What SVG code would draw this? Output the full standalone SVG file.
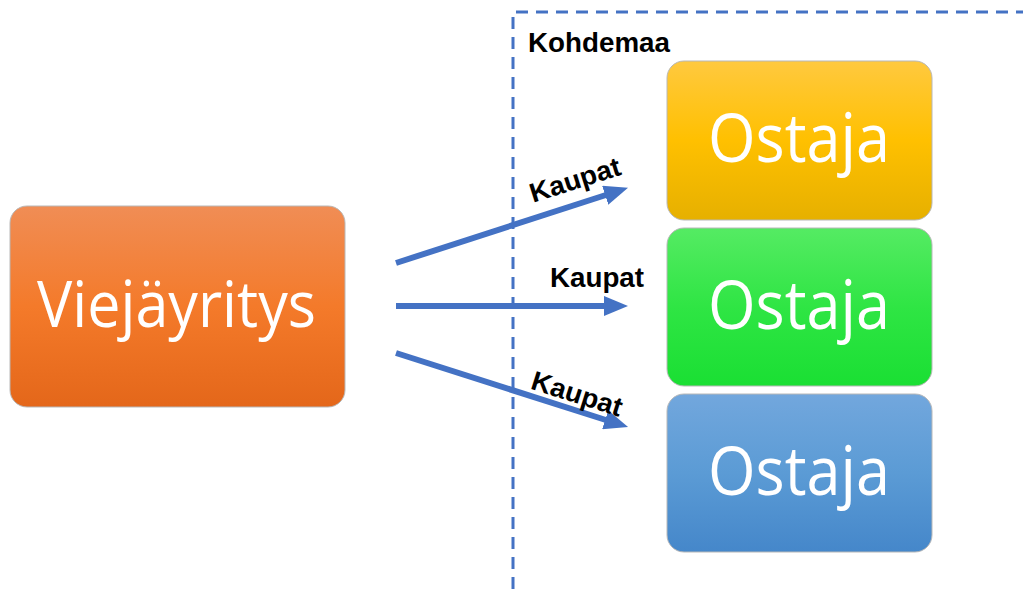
<svg xmlns="http://www.w3.org/2000/svg" width="1023" height="589" viewBox="0 0 1023 589">
  <defs>
    <linearGradient id="gOrange" x1="0" y1="0" x2="0" y2="1">
      <stop offset="0" stop-color="#F08D55"/>
      <stop offset="0.5" stop-color="#F47A2A"/>
      <stop offset="1" stop-color="#E4671A"/>
    </linearGradient>
    <linearGradient id="gYellow" x1="0" y1="0" x2="0" y2="1">
      <stop offset="0" stop-color="#FFC93F"/>
      <stop offset="0.5" stop-color="#FFC000"/>
      <stop offset="1" stop-color="#E6B000"/>
    </linearGradient>
    <linearGradient id="gGreen" x1="0" y1="0" x2="0" y2="1">
      <stop offset="0" stop-color="#55EB63"/>
      <stop offset="0.5" stop-color="#2FE544"/>
      <stop offset="1" stop-color="#1ADF33"/>
    </linearGradient>
    <linearGradient id="gBlue" x1="0" y1="0" x2="0" y2="1">
      <stop offset="0" stop-color="#72A7DD"/>
      <stop offset="0.5" stop-color="#5B9BD5"/>
      <stop offset="1" stop-color="#4587CA"/>
    </linearGradient>
    <marker id="head" markerUnits="userSpaceOnUse" markerWidth="24" markerHeight="20" refX="4" refY="10" orient="auto">
      <path d="M0,0 L24,10 L0,20 z" fill="#4472C4"/>
    </marker>
    <style>
      .box { stroke: #B8B8B8; stroke-width: 1; }
      .big { font-family: "Open Sans", "Noto Sans", sans-serif; fill: #FFFFFF; text-anchor: start; }
      .lbl { font-family: "Liberation Sans", Arial, sans-serif; font-weight: bold; font-size: 27px; fill: #000000; }
      .arrow { stroke: #4472C4; stroke-width: 6; fill: none; marker-end: url(#head); }
      .frame { stroke: #4472C4; stroke-width: 3; fill: none; stroke-dasharray: 12 8; }
    </style>
  </defs>

  <rect width="1023" height="589" fill="#FFFFFF"/>

  <!-- target-country region -->
  <g id="region">
    <path class="frame" d="M513,589 L513,12 L1023,12"/>
    <text class="lbl" x="528" y="52" textLength="142" lengthAdjust="spacingAndGlyphs">Kohdemaa</text>
  </g>

  <!-- exporter -->
  <g id="exporter">
    <rect class="box" x="10" y="206" width="335" height="201" rx="17" fill="url(#gOrange)"/>
    <text class="big" x="37" y="327" font-size="64" textLength="279" lengthAdjust="spacingAndGlyphs">Viejäyritys</text>
  </g>

  <!-- buyers -->
  <g id="buyer1">
    <rect class="box" x="667" y="61" width="265" height="159" rx="17" fill="url(#gYellow)"/>
    <text class="big" x="708" y="162" font-size="68" textLength="182" lengthAdjust="spacingAndGlyphs">Ostaja</text>
  </g>
  <g id="buyer2">
    <rect class="box" x="667" y="228" width="265" height="158" rx="17" fill="url(#gGreen)"/>
    <text class="big" x="708" y="329" font-size="68" textLength="182" lengthAdjust="spacingAndGlyphs">Ostaja</text>
  </g>
  <g id="buyer3">
    <rect class="box" x="667" y="394" width="265" height="158" rx="17" fill="url(#gBlue)"/>
    <text class="big" x="708" y="495" font-size="68" textLength="182" lengthAdjust="spacingAndGlyphs">Ostaja</text>
  </g>

  <!-- sales connectors -->
  <g id="connectors">
    <line class="arrow" x1="396" y1="263" x2="609" y2="194"/>
    <line class="arrow" x1="396" y1="306" x2="608" y2="306"/>
    <line class="arrow" x1="396" y1="353" x2="609" y2="421"/>
    <text class="lbl" transform="translate(575,180) rotate(-17.5)" x="-47" y="9" textLength="94" lengthAdjust="spacingAndGlyphs">Kaupat</text>
    <text class="lbl" x="550" y="287" textLength="94" lengthAdjust="spacingAndGlyphs">Kaupat</text>
    <text class="lbl" transform="translate(577,394) rotate(17.5)" x="-47" y="9" textLength="94" lengthAdjust="spacingAndGlyphs">Kaupat</text>
  </g>
</svg>
